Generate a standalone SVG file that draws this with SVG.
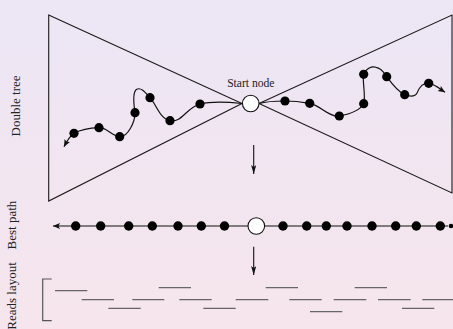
<svg xmlns="http://www.w3.org/2000/svg" width="453" height="329" viewBox="0 0 453 329">
<defs>
<linearGradient id="bg" x1="0" y1="0" x2="0" y2="1">
<stop offset="0" stop-color="#ece6f5"/>
<stop offset="1" stop-color="#f6e5ec"/>
</linearGradient>
<marker id="ah" markerUnits="userSpaceOnUse" markerWidth="10" markerHeight="8" refX="7" refY="3" orient="auto">
<path d="M0,0 L7,3 L0,6 L1.5,3 z" fill="#111"/>
</marker>
<marker id="ahd" markerUnits="userSpaceOnUse" markerWidth="12" markerHeight="8" refX="9" refY="2.6" orient="auto">
<path d="M0,0 L9,2.6 L0,5.2 L2,2.6 z" fill="#111"/>
</marker>
</defs>
<style>
.lbl{font-family:"Liberation Serif","Times New Roman",serif;font-size:13px;fill:#222;text-anchor:middle}
.tri{fill:none;stroke:#1a1a1a;stroke-width:1.1}
.walk{fill:none;stroke:#111;stroke-width:1.2}
.dot{fill:#000}
.open{fill:#fff;stroke:#111;stroke-width:1.1}
.read{stroke:#666;stroke-width:1.2}
.ln{stroke:#111;stroke-width:1.1;fill:none}
</style>
<rect x="0" y="0" width="453" height="329" fill="url(#bg)"/>

<text class="lbl" transform="translate(19.5,106) rotate(-90)">Double tree</text>
<text class="lbl" transform="translate(16,225) rotate(-90)">Best path</text>
<text class="lbl" transform="translate(16,296) rotate(-90)">Reads layout</text>

<g id="left-tree">
<polygon class="tri" points="48.7,15 242,103.5 48.7,201"/>
</g>
<g id="right-tree">
<polygon class="tri" points="259,103.5 452,15 452,193"/>
</g>

<g id="connectors">
<path class="walk" marker-end="url(#ah)" d="M242,103.5 C228,102 212,101 200,104 C186,108 182,123 170,120.7 C160,119 156,104 150,97.7 C145,92 141,87 136.7,89.3 C132,92 134,106 135,112.7 C135,122 128,137 119.7,136.7 C112,136 106,127 99,127.7 C90,128 82,129 74,133.3 C70,136 67,141 64,146.7"/>
<path class="walk" marker-end="url(#ah)" d="M259,103.5 C268,101 276,101 285,101 C294,101 302,102 309.7,103.3 C320,105 330,118 339.3,116 C350,114 360,110 363.7,103.7 C366,96 362,80 363.7,74.3 C366,68 372,66 376,67.3 C382,68 384,73 386.7,76.7 C392,84 398,92 404.7,94.7 C411,97 415,97 417,93 C420,86 423,83 428.7,83.3 C435,84 440,89 445,92.3"/>
<line class="ln" x1="253.7" y1="145" x2="253.7" y2="174" marker-end="url(#ahd)"/>
<line class="ln" x1="253.7" y1="246.7" x2="253.7" y2="275" marker-end="url(#ahd)"/>
<line class="ln" x1="448" y1="226" x2="53" y2="226" marker-end="url(#ah)"/>
</g>

<g id="tree-dots">
<circle class="dot" cx="200" cy="104" r="4.6"/>
<circle class="dot" cx="170" cy="120.7" r="4.6"/>
<circle class="dot" cx="150" cy="97.7" r="4.6"/>
<circle class="dot" cx="135" cy="112.7" r="4.6"/>
<circle class="dot" cx="119.7" cy="136.7" r="4.6"/>
<circle class="dot" cx="99" cy="127.7" r="4.6"/>
<circle class="dot" cx="74" cy="133.3" r="4.6"/>
<circle class="dot" cx="285" cy="101" r="4.6"/>
<circle class="dot" cx="309.7" cy="103.3" r="4.6"/>
<circle class="dot" cx="339.3" cy="116" r="4.6"/>
<circle class="dot" cx="363.7" cy="103.7" r="4.6"/>
<circle class="dot" cx="363.7" cy="74.3" r="4.6"/>
<circle class="dot" cx="386.7" cy="76.7" r="4.6"/>
<circle class="dot" cx="404.7" cy="94.7" r="4.6"/>
<circle class="dot" cx="428.7" cy="83.3" r="4.6"/>
</g>

<g id="start-node">
<circle class="open" cx="250.7" cy="103.5" r="8.3"/>
<text x="250.8" y="86.7" style="font-family:'Liberation Serif','Times New Roman',serif;font-size:11.6px;fill:#222;text-anchor:middle">Start node</text>
</g>

<g id="best-path">
<circle class="dot" cx="75.7" cy="226" r="4.7"/>
<circle class="dot" cx="100.7" cy="226" r="4.7"/>
<circle class="dot" cx="128.7" cy="226" r="4.7"/>
<circle class="dot" cx="152.3" cy="226" r="4.7"/>
<circle class="dot" cx="178" cy="226" r="4.7"/>
<circle class="dot" cx="201.3" cy="226" r="4.7"/>
<circle class="dot" cx="224.5" cy="226" r="4.7"/>
<circle class="open" cx="256.3" cy="226" r="8.3"/>
<circle class="dot" cx="283" cy="226" r="4.7"/>
<circle class="dot" cx="306.7" cy="226" r="4.7"/>
<circle class="dot" cx="326.3" cy="226" r="4.7"/>
<circle class="dot" cx="347" cy="226" r="4.7"/>
<circle class="dot" cx="372" cy="226" r="4.7"/>
<circle class="dot" cx="395.7" cy="226" r="4.7"/>
<circle class="dot" cx="416.3" cy="226" r="4.7"/>
<circle class="dot" cx="440.3" cy="226" r="4.7"/>
<circle class="dot" cx="451" cy="226" r="2.3"/>
</g>

<g id="reads-layout">
<path d="M51.7,279 H42.7 V320.7 H51.7" fill="none" stroke="#555" stroke-width="1.2"/>
<line class="read" x1="55" y1="290.7" x2="87.3" y2="290.7"/>
<line class="read" x1="158.7" y1="287.7" x2="191" y2="287.7"/>
<line class="read" x1="265.7" y1="287.7" x2="298" y2="287.7"/>
<line class="read" x1="354.7" y1="287.7" x2="387" y2="287.7"/>
<line class="read" x1="81.7" y1="299.7" x2="114" y2="299.7"/>
<line class="read" x1="132.3" y1="299.7" x2="164.3" y2="299.7"/>
<line class="read" x1="179.3" y1="299.7" x2="211.7" y2="299.7"/>
<line class="read" x1="235.7" y1="299.7" x2="268.3" y2="299.7"/>
<line class="read" x1="289.3" y1="299.7" x2="321.7" y2="299.7"/>
<line class="read" x1="333.7" y1="299.7" x2="366.3" y2="299.7"/>
<line class="read" x1="378" y1="299.7" x2="410.7" y2="299.7"/>
<line class="read" x1="422.3" y1="299.7" x2="455" y2="299.7"/>
<line class="read" x1="108.3" y1="308.3" x2="140.7" y2="308.3"/>
<line class="read" x1="203.3" y1="308.3" x2="235.7" y2="308.3"/>
<line class="read" x1="402" y1="308.3" x2="434.3" y2="308.3"/>
<line class="read" x1="310" y1="311.7" x2="342.3" y2="311.7"/>
</g>
</svg>
